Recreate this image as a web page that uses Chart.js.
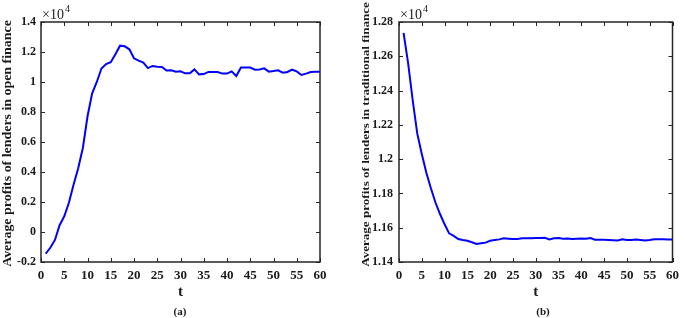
<!DOCTYPE html>
<html><head><meta charset="utf-8">
<script src="https://cdn.jsdelivr.net/npm/chart.js@4.4.1/dist/chart.umd.min.js"></script>
<style>
html,body{margin:0;padding:0;background:#fff;}
#wrap{position:relative;width:685px;height:318px;overflow:hidden;background:#fff;}
canvas{position:absolute;top:0;}
</style></head><body>
<div id="wrap">
<canvas id="ca" width="342" height="318" style="left:0"></canvas>
<canvas id="cb" width="343" height="318" style="left:342px"></canvas>
</div>
<script>
const periods = [1,2,3,4,5,6,7,8,9,10,11,12,13,14,15,16,17,18,19,20,21,22,23,24,25,26,27,28,29,30,
  31,32,33,34,35,36,37,38,39,40,41,42,43,44,45,46,47,48,49,50,51,52,53,54,55,56,57,58,59,60];
const openProfits = [-1450,-1050,-530,450,1050,1950,3150,4250,5600,7700,
  9250,10000,10900,11200,11320,11850,12420,12380,12180,11580,
  11420,11300,10930,11070,11020,11000,10760,10780,10690,10710,
  10580,10580,10840,10510,10530,10670,10670,10670,10560,10560,
  10710,10400,10960,10960,10960,10820,10840,10910,10690,10730,
  10780,10620,10670,10820,10710,10470,10560,10670,10690,10690];
const tradProfits = [12736,12560,12345,12150,12030,11920,11830,11747,11680,11620,
  11567,11552,11534,11528,11524,11515,11505,11509,11513,11524,
  11528,11532,11538,11536,11534,11534,11538,11538,11539,11540,
  11540,11541,11532,11538,11540,11536,11537,11534,11536,11537,
  11535,11540,11530,11530,11530,11529,11527,11525,11532,11529,
  11528,11531,11529,11526,11529,11533,11533,11532,11531,11531];
const xTicks = [0,5,10,15,20,25,30,35,40,45,50,55,60];
const openYTicks = [-0.2,0,0.2,0.4,0.6,0.8,1,1.2,1.4];
const tradYTicks = [1.14,1.16,1.18,1.2,1.22,1.24,1.26,1.28];
const titles = {
  openY: 'Average profits of lenders in open finance',
  tradY: 'Average profits of lenders in traditional finance',
  x: 't', a: '(a)', b: '(b)', exp: '\u00d710', expPow: '4'
};

const FONT = '"Liberation Serif", "Times New Roman", serif';
const INK = '#1a1a1a';

const framePlugin = {
  id: 'frame',
  afterDraw(chart, args, opts) {
    const {ctx, chartArea: a, scales: {x, y}} = chart;
    ctx.save();
    ctx.strokeStyle = '#262626';
    ctx.lineWidth = 1;
    ctx.beginPath();
    x.ticks.forEach(t => {
      const px = Math.round(x.getPixelForValue(t.value)) + 0.5;
      ctx.moveTo(px, a.bottom); ctx.lineTo(px, a.bottom - 4);
      ctx.moveTo(px, a.top); ctx.lineTo(px, a.top + 4);
    });
    y.ticks.forEach(t => {
      const py = Math.round(y.getPixelForValue(t.value)) + 0.5;
      ctx.moveTo(a.left, py); ctx.lineTo(a.left + 4, py);
      ctx.moveTo(a.right, py); ctx.lineTo(a.right - 4, py);
    });
    ctx.stroke();
    ctx.lineWidth = 1.5;
    ctx.strokeRect(a.left, a.top, a.right - a.left, a.bottom - a.top);
    // exponent label
    ctx.fillStyle = INK;
    ctx.textBaseline = 'alphabetic';
    ctx.textAlign = 'left';
    ctx.font = '14px ' + FONT;
    const ex = a.left + 1;
    ctx.fillText(titles.exp, ex, 19);
    const w = ctx.measureText(titles.exp).width;
    ctx.font = '10px ' + FONT;
    ctx.fillText(titles.expPow, ex + w + 1, 12);
    // y axis title
    ctx.font = 'bold 13px ' + FONT;
    const mw = ctx.measureText(opts.yTitle).width;
    const size = 13 * opts.yLen / mw;
    ctx.font = 'bold ' + size.toFixed(2) + 'px ' + FONT;
    ctx.save();
    ctx.translate(opts.yX, opts.yCY);
    ctx.rotate(-Math.PI / 2);
    ctx.scale(1, 0.85);
    ctx.textAlign = 'center';
    ctx.textBaseline = 'middle';
    ctx.fillText(opts.yTitle, 0, 0);
    ctx.restore();
    // panel label
    ctx.font = 'bold 11px ' + FONT;
    ctx.textAlign = 'center';
    ctx.textBaseline = 'middle';
    ctx.fillText(opts.label, opts.labelX, 312);
    ctx.restore();
  }
};

function makeChart(id, values, yMin, yMax, yTicksArr, yDigits, yWidth, padRight, yTickPad, frameOpts) {
  const pts = periods.map((t, i) => ({x: t, y: values[i]}));
  return new Chart(document.getElementById(id), {
    type: 'line',
    data: { datasets: [{ data: pts, borderColor: '#0000ff', borderWidth: 2, pointRadius: 0, tension: 0, fill: false }] },
    plugins: [framePlugin],
    options: {
      responsive: false, animation: false,
      layout: { padding: { left: 0, right: padRight, top: 22, bottom: 0 } },
      plugins: { legend: { display: false }, tooltip: { enabled: false }, frame: frameOpts },
      scales: {
        x: {
          type: 'linear', min: 0, max: 60,
          afterBuildTicks: s => { s.ticks = xTicks.map(v => ({value: v})); },
          grid: { display: false, drawTicks: false },
          border: { display: false },
          ticks: { color: INK, font: { family: FONT, size: 13, weight: 'bold' }, padding: 6, maxRotation: 0,
                   callback: v => String(v) },
          title: { display: true, text: titles.x, color: INK, font: { family: FONT, size: 15, weight: 'bold' },
                   padding: { top: 17, bottom: 17 } },
          afterFit: s => { s.height = 56; }
        },
        y: {
          type: 'linear', min: yMin, max: yMax,
          afterBuildTicks: s => { s.ticks = yTicksArr.map(v => ({value: v * 1e4})); },
          grid: { display: false, drawTicks: false },
          border: { display: false },
          ticks: { color: INK, font: { family: FONT, size: 12, weight: 'bold' }, padding: yTickPad,
                   callback: v => String(+(v / 1e4).toFixed(yDigits)) },
          title: { display: false },
          afterFit: s => { s.width = yWidth; }
        }
      }
    }
  });
}

makeChart('ca', openProfits, -2000, 14000, openYTicks, 1, 41, 22, 5,
  { label: titles.a, labelX: 180, yTitle: titles.openY, yX: 8, yCY: 143.5, yLen: 247 });
makeChart('cb', tradProfits, 11400, 12800, tradYTicks, 2, 57, 8, 6,
  { label: titles.b, labelX: 201, yTitle: titles.tradY, yX: 24, yCY: 134.5, yLen: 265 });
</script>
</body></html>
